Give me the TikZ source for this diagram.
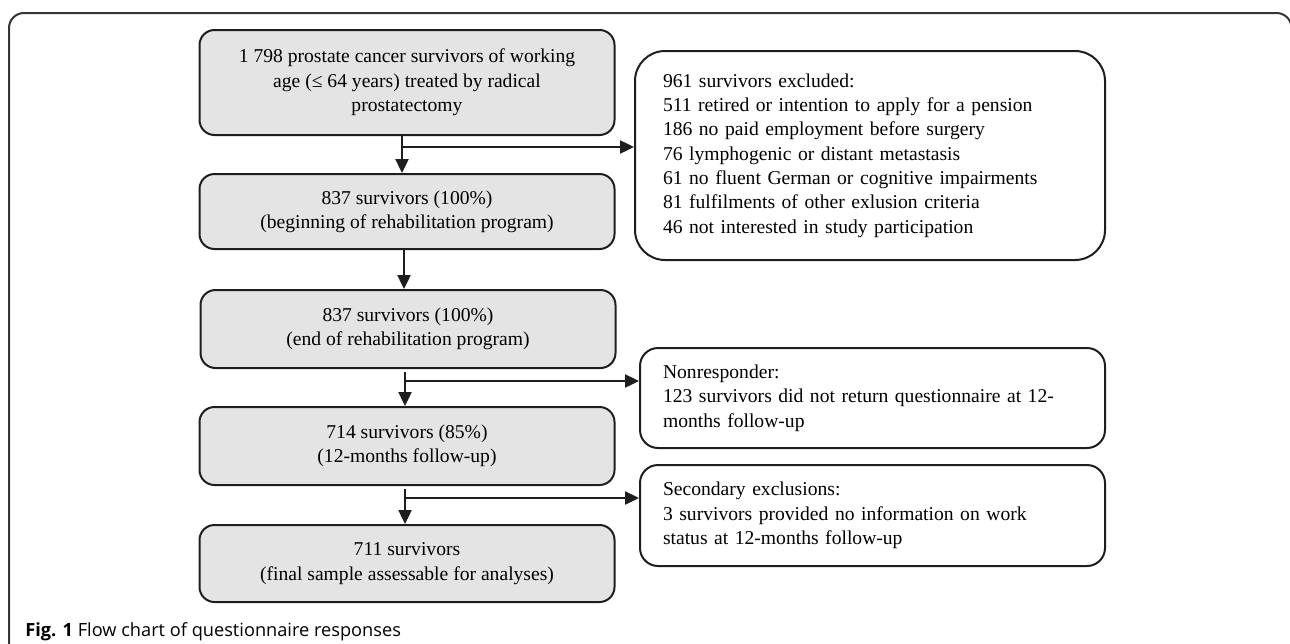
\documentclass[tikz,border=0pt]{standalone}
\usepackage{fontspec}
\setmainfont{Liberation Serif}
\newfontfamily\capfont{Open Sans}
\usetikzlibrary{arrows.meta}
\definecolor{boxfill}{HTML}{E4E4E4}
\definecolor{linecol}{HTML}{1E1E1E}
\begin{document}
\begin{tikzpicture}[x=0.5pt,y=-0.5pt,
  txt/.style={font=\fontsize{9.8}{12.15}\selectfont},
  mainbox/.style={txt, draw=linecol, line width=1pt, fill=boxfill, rounded corners=7.5pt,
    minimum width=207.5pt, align=center, inner sep=0pt},
  sidebox/.style={txt, draw=linecol, line width=1pt, fill=white, align=left, inner ysep=0pt},
  arr/.style={line width=1.2pt, draw=linecol, -{Triangle[length=7pt,width=6.5pt]}}]
\useasboundingbox (0,0) rectangle (1290,643);
\draw[line width=1pt, draw=linecol!90, rounded corners=7.5pt] (9,680) -- (9,13) -- (1291.5,13) -- (1291.5,680);

\node[mainbox, minimum height=52.5pt] (b1) at (407,82.5)
  {1 798 prostate cancer survivors of working\\age (≤ 64 years) treated by radical\\prostatectomy};
\node[mainbox, minimum height=37.5pt] (b2) at (407,211.5)
  {837 survivors (100\%)\\(beginning of rehabilitation program)};
\node[mainbox, minimum height=39pt] (b3) at (408,329)
  {837 survivors (100\%)\\(end of rehabilitation program)};
\node[mainbox, minimum height=39pt] (b4) at (407,446)
  {714 survivors (85\%)\\(12-months follow-up)};
\node[mainbox, minimum height=38.5pt] (b5) at (407,563.5)
  {711 survivors\\(final sample assessable for analyses)};

\node[sidebox, rounded corners=15pt, text width=207pt, inner xsep=14pt, minimum height=104.5pt] (ex) at (870,155.5)
  {961 survivors excluded:\\511 retired or intention to apply for a pension\\186 no paid employment before surgery\\76 lymphogenic or distant metastasis\\61 no fluent German or cognitive impairments\\81 fulfilments of other exlusion criteria\\46 not interested in study participation};
\node[sidebox, rounded corners=9pt, text width=209.5pt, inner xsep=11.5pt, minimum height=50pt] (nr) at (872.5,398)
  {Nonresponder:\\123 survivors did not return questionnaire at 12-\\months follow-up};
\node[sidebox, rounded corners=9pt, text width=209.5pt, inner xsep=11.5pt, minimum height=50.5pt] (se) at (872.5,515.5)
  {Secondary exclusions:\\3 survivors provided no information on work\\status at 12-months follow-up};

\coordinate (k1) at (402,147);
\draw[arr] (b1.south -| k1) -- (b2.north -| k1);
\draw[arr] (k1) -- (k1 -| ex.west);
\coordinate (v2) at (404,0);
\draw[arr] (b2.south -| v2) -- (b3.north -| v2);
\coordinate (k2) at (405,381);
\draw[arr] ([yshift=-1.5pt]b3.south -| k2) -- (b4.north -| k2);
\draw[arr] (k2) -- (k2 -| nr.west);
\coordinate (k3) at (405,498);
\draw[arr] ([yshift=-1.5pt]b4.south -| k3) -- (b5.north -| k3);
\draw[arr] (k3) -- (k3 -| se.west);

\node[anchor=base west, font=\capfont\fontsize{9.1}{11}\selectfont, inner sep=0pt] (cap) at (25,636)
  {\textbf{Fig. 1} Flow chart of questionnaire responses};
\end{tikzpicture}
\end{document}
